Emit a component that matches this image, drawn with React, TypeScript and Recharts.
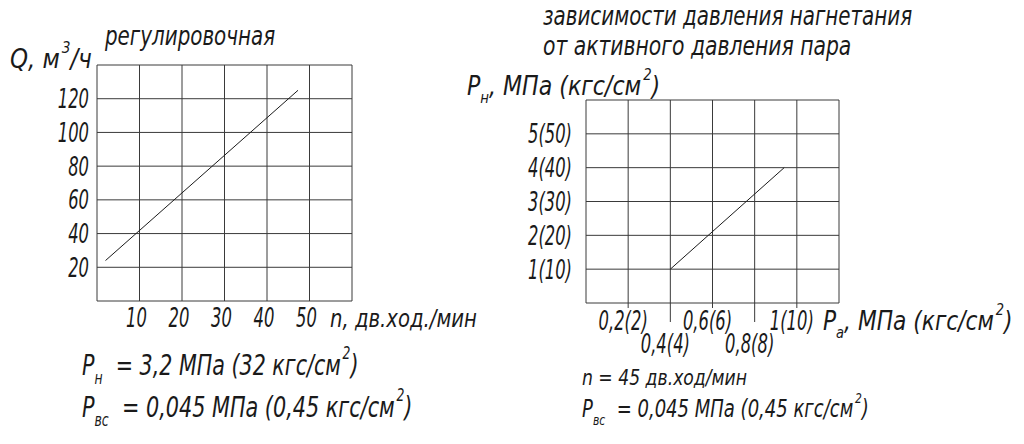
import { CartesianGrid, Line, LineChart, XAxis, YAxis } from 'recharts'

// regulating curve: Q vs n
const strokesN = [2, 47.3]
const flowQ = [24, 125]
const nTicks = [0, 10, 20, 30, 40, 50, 60]
const nLabels = ['', '10', '20', '30', '40', '50', '']
const qTicks = [0, 20, 40, 60, 80, 100, 120, 140]
const qLabels = ['', '20', '40', '60', '80', '100', '120', '']

// discharge pressure vs active steam pressure
const activeP = [0.4, 0.94]
const dischargeP = [1, 4]
const paTicks = [0, 0.2, 0.4, 0.6, 0.8, 1, 1.2]
const paLabels = ['', '0,2(2)', '0,4(4)', '0,6(6)', '0,8(8)', '1(10)', '']
const pnTicks = [0, 1, 2, 3, 4, 5, 6]
const pnLabels = ['', '1(10)', '2(20)', '3(30)', '4(40)', '5(50)', '']

const flowData = strokesN.map((n, i) => ({ n, q: flowQ[i] }))
const pressData = activeP.map((pa, i) => ({ pa, pn: dischargeP[i] }))

const FONT = "'Liberation Sans Narrow', 'DejaVu Sans Condensed', 'Roboto Condensed', 'DejaVu Sans', sans-serif"
const INK = '#1a1a1a'
const GRID = '#3a3a3a'
const TICK_SIZE = 26
const TICK_SX = 0.7

type Part = [string, 'n' | 'sub' | 'sup']

function Note({ x, y, size, sx, parts }: { x: number; y: number; size: number; sx: number; parts: Part[] }) {
  let shift = 0
  return (
    <g transform={`translate(${x},${y}) scale(${sx},1)`}>
      <text x={0} y={0} fontSize={size} fontFamily={FONT} fontStyle="italic" fill={INK}>
        {parts.map(([t, kind], i) => {
          const target = kind === 'sub' ? size * 0.32 : kind === 'sup' ? -size * 0.58 : 0
          const dy = target - shift
          shift = target
          return (
            <tspan key={i} dy={dy} dx={kind === 'sup' ? 2 : 0} fontSize={kind === 'n' ? size : size * 0.6}>
              {t}
            </tspan>
          )
        })}
      </text>
    </g>
  )
}

function TickText({ x, y, anchor, children }: { x: number; y: number; anchor: 'end' | 'middle'; children: string }) {
  return (
    <g transform={`translate(${x},${y}) scale(${TICK_SX},1)`}>
      <text x={0} y={0} textAnchor={anchor} fontSize={TICK_SIZE} fontFamily={FONT} fontStyle="italic" fill={INK}>
        {children}
      </text>
    </g>
  )
}

function LeftYTick(props: any) {
  const { x, y, payload } = props
  const label = qLabels[qTicks.indexOf(payload.value)]
  return <TickText x={x - 8} y={y + 9.5} anchor="end">{label}</TickText>
}

function LeftXTick(props: any) {
  const { x, y, payload } = props
  const label = nLabels[nTicks.indexOf(payload.value)]
  return <TickText x={x - 3} y={y + 26} anchor="middle">{label}</TickText>
}

function RightYTick(props: any) {
  const { x, y, payload } = props
  const label = pnLabels[pnTicks.indexOf(payload.value)]
  return <TickText x={x - 14} y={y + 9.5} anchor="end">{label}</TickText>
}

function RightXTick(props: any) {
  const { x, y, payload } = props
  const i = paTicks.indexOf(payload.value)
  const label = paLabels[i]
  if (!label) return <g />
  const low = i === 2 || i === 4
  return (
    <g>
      <line x1={x} x2={x} y1={y} y2={y + (low ? 19 : 5)} stroke={GRID} strokeWidth={1} />
      <TickText x={x - 5} y={y + (low ? 50 : 27)} anchor="middle">{label}</TickText>
    </g>
  )
}

export default function App() {
  return (
    <div style={{ position: 'absolute', left: 0, top: 0, width: 1024, height: 444, background: '#fff' }}>
      <div style={{ position: 'absolute', left: 0, top: 0 }}>
        <LineChart width={500} height={444} data={flowData} margin={{ top: 65, right: 148, bottom: 113, left: 37 }}>
          <CartesianGrid stroke={GRID} strokeWidth={1} />
          <XAxis type="number" dataKey="n" domain={[0, 60]} ticks={nTicks} interval={0} height={30}
            axisLine={false} tickLine={false} tickSize={0} tickMargin={0} tick={<LeftXTick />} />
          <YAxis type="number" domain={[0, 140]} ticks={qTicks} interval={0} width={60}
            axisLine={false} tickLine={false} tickSize={0} tickMargin={0} tick={<LeftYTick />} />
          <Line dataKey="q" stroke={INK} strokeWidth={1} dot={false} isAnimationActive={false} />
        </LineChart>
      </div>
      <div style={{ position: 'absolute', left: 500, top: 0 }}>
        <LineChart width={524} height={444} data={pressData} margin={{ top: 100, right: 185, bottom: 111, left: 26 }}>
          <CartesianGrid stroke={GRID} strokeWidth={1} />
          <XAxis type="number" dataKey="pa" domain={[0, 1.2]} ticks={paTicks} interval={0} height={30}
            axisLine={false} tickLine={false} tickSize={0} tickMargin={0} tick={<RightXTick />} />
          <YAxis type="number" domain={[0, 6]} ticks={pnTicks} interval={0} width={60}
            axisLine={false} tickLine={false} tickSize={0} tickMargin={0} tick={<RightYTick />} />
          <Line dataKey="pn" stroke={INK} strokeWidth={1} dot={false} isAnimationActive={false} />
        </LineChart>
      </div>
      <svg width={1024} height={444} style={{ position: 'absolute', left: 0, top: 0, pointerEvents: 'none' }}>
        <Note x={105} y={45} size={26} sx={0.85} parts={[['регулировочная', 'n']]} />
        <Note x={10} y={68} size={26} sx={0.98} parts={[['Q, м', 'n'], ['3', 'sup'], ['/ч', 'n']]} />
        <Note x={330} y={327} size={24} sx={0.91} parts={[['n, дв.ход./мин', 'n']]} />
        <Note x={82} y={375} size={28} sx={0.82} parts={[['P', 'n'], ['н', 'sub'], ['\u00a0 = 3,2 МПа (32 кгс/см', 'n'], ['2', 'sup'], [')', 'n']]} />
        <Note x={82} y={417} size={28} sx={0.825} parts={[['P', 'n'], ['вс', 'sub'], ['\u00a0 = 0,045 МПа (0,45 кгс/см', 'n'], ['2', 'sup'], [')', 'n']]} />
        <Note x={543} y={25} size={26} sx={0.85} parts={[['зависимости давления нагнетания', 'n']]} />
        <Note x={543} y={55} size={26} sx={0.87} parts={[['от активного давления пара', 'n']]} />
        <Note x={467} y={95} size={26} sx={0.945} parts={[['P', 'n'], ['н', 'sub'], [', МПа (кгс/см', 'n'], ['2', 'sup'], [')', 'n']]} />
        <Note x={823} y={330} size={26} sx={0.93} parts={[['P', 'n'], ['а', 'sub'], [', МПа (кгс/см', 'n'], ['2', 'sup'], [')', 'n']]} />
        <Note x={582} y={385} size={22} sx={0.87} parts={[['n = 45 дв.ход/мин', 'n']]} />
        <Note x={582} y={417} size={24} sx={0.835} parts={[['P', 'n'], ['вс', 'sub'], ['\u00a0 = 0,045 МПа (0,45 кгс/см', 'n'], ['2', 'sup'], [')', 'n']]} />
      </svg>
    </div>
  )
}
